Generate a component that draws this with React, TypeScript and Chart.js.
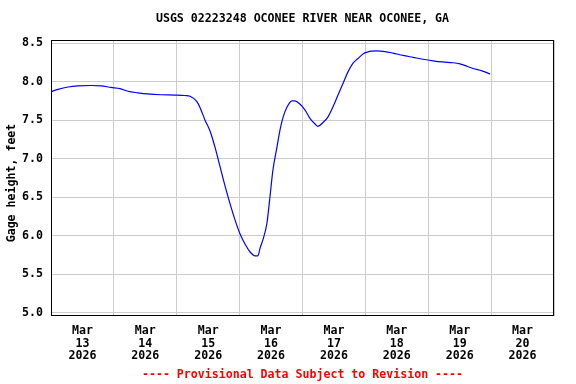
import React, { useEffect, useRef } from "react";
import { Chart, registerables } from "chart.js";

Chart.register(...registerables);

const TITLE = "USGS 02223248 OCONEE RIVER NEAR OCONEE, GA";
const Y_LABEL = "Gage height, feet";
const FOOTER = "---- Provisional Data Subject to Revision ----";
const MONTH = "Mar";
const YEAR = "2026";
const DAYS = [13, 14, 15, 16, 17, 18, 19, 20];
const Y_TICKS = [5.0, 5.5, 6.0, 6.5, 7.0, 7.5, 8.0, 8.5];

// hours since Mar 13 2026 00:00
const HOURS = [
  0, 2.7, 6.5, 10.3, 15.3, 19.1, 22.9, 26.3, 29.4, 33.2, 37.0, 42.0, 47.3, 51.1,
  53.1, 55.7, 57.3, 58.8, 60.7, 62.6, 64.5, 66.4, 68.3, 70.2, 72.1, 74.1, 76.0,
  77.9, 79.0, 79.8, 80.9, 82.4, 83.6, 84.7, 86.3, 87.4, 88.6, 90.1, 92.0, 93.1,
  95.0, 97.0, 98.9, 100.8, 101.9, 103.8, 105.7, 107.6, 109.6, 111.5, 113.4,
  115.3, 117.2, 119.1, 121.0, 122.5, 124.4, 127.5, 130.5, 134.4, 138.2, 142.0,
  145.8, 149.6, 153.5, 156.1, 158.8, 161.1, 164.5, 167.6,
];
const GAGE = [
  7.87, 7.90, 7.93, 7.945, 7.95, 7.945, 7.925, 7.91, 7.875, 7.855, 7.84, 7.83, 7.826, 7.82,
  7.81, 7.74, 7.63, 7.50, 7.36, 7.15, 6.90, 6.65, 6.42, 6.21, 6.03, 5.89, 5.79,
  5.74, 5.74, 5.84, 5.95, 6.16, 6.51, 6.85, 7.16, 7.37, 7.54, 7.67, 7.75, 7.75,
  7.71, 7.63, 7.52, 7.45, 7.42, 7.47, 7.54, 7.67, 7.83, 7.98, 8.13,
  8.24, 8.30, 8.36, 8.385, 8.395, 8.40, 8.39, 8.37, 8.34, 8.315, 8.29,
  8.27, 8.255, 8.245, 8.23, 8.20, 8.17, 8.14, 8.10,
];

const FONT_FAMILY = '"DejaVu Sans Mono", monospace';
const FONT_SIZE = 11.6;

const framePlugin = {
  id: "usgsFrame",
  afterDraw(chart: any) {
    const { ctx, chartArea } = chart;
    const { left, right, top, bottom } = chartArea;
    ctx.save();
    ctx.strokeStyle = "#000000";
    ctx.lineWidth = 1;
    ctx.strokeRect(Math.round(left) + 0.5, Math.round(top) + 0.5, Math.round(right - left) - 1, Math.round(bottom - top) - 1);
    ctx.font = `bold ${FONT_SIZE}px ${FONT_FAMILY}`;
    ctx.fillStyle = "#000000";
    ctx.textAlign = "center";
    ctx.textBaseline = "middle";
    const cx = (left + right) / 2;
    ctx.fillText(TITLE, cx, 19);
    ctx.fillStyle = "#ff0000";
    ctx.fillText(FOOTER, cx, 375);
    ctx.fillStyle = "#000000";
    ctx.translate(12, (top + bottom) / 2 + 5);
    ctx.rotate(-Math.PI / 2);
    ctx.fillText(Y_LABEL, 0, 0);
    ctx.restore();
  },
};

export default function App() {
  const ref = useRef<HTMLCanvasElement>(null);
  useEffect(() => {
    document.body.style.margin = "0";
    const canvas = ref.current!;
    const data = HOURS.map((h, i) => ({ x: h, y: GAGE[i] }));
    const font = { family: FONT_FAMILY, size: FONT_SIZE, weight: "bold" as const, lineHeight: 1.08 };
    const chart = new Chart(canvas, {
      type: "line",
      data: {
        datasets: [
          {
            data,
            borderColor: "#0000ff",
            borderWidth: 1.2,
            pointRadius: 0,
            cubicInterpolationMode: "monotone",
            fill: false,
          },
        ],
      },
      options: {
        animation: false,
        responsive: false,
        devicePixelRatio: 1,
        layout: { padding: { left: 0, top: 40, right: 22, bottom: 0 } },
        plugins: { legend: { display: false }, tooltip: { enabled: false }, title: { display: false } },
        scales: {
          x: {
            type: "linear",
            min: 0,
            max: DAYS.length * 24,
            afterBuildTicks: (scale: any) => {
              const t: any[] = [];
              for (let i = 0; i <= DAYS.length; i++) {
                t.push({ value: i * 24 });
                if (i < DAYS.length) t.push({ value: i * 24 + 12 });
              }
              scale.ticks = t;
            },
            afterFit: (scale: any) => {
              scale.height = 68;
            },
            grid: {
              color: (c: any) => (c.tick && c.tick.value % 24 === 0 ? "#cccccc" : "rgba(0,0,0,0)"),
              drawTicks: false,
              lineWidth: 1,
            },
            border: { display: false },
            ticks: {
              autoSkip: false,
              maxRotation: 0,
              padding: 9,
              color: "#000000",
              font,
              callback: (v: any) => {
                const n = Number(v);
                if (n % 24 !== 12) return "";
                return [MONTH, String(DAYS[(n - 12) / 24]), YEAR];
              },
            },
          },
          y: {
            type: "linear",
            min: 4.96,
            max: 8.54,
            afterBuildTicks: (scale: any) => {
              scale.ticks = Y_TICKS.map((v) => ({ value: v }));
            },
            afterFit: (scale: any) => {
              scale.width = 51;
            },
            grid: { color: "#cccccc", drawTicks: false, lineWidth: 1 },
            border: { display: false },
            ticks: {
              padding: 8,
              color: "#000000",
              font,
              callback: (v: any) => Number(v).toFixed(1),
            },
          },
        },
      },
      plugins: [framePlugin],
    });
    return () => chart.destroy();
  }, []);
  return <canvas ref={ref} width={576} height={384} style={{ display: "block", width: 576, height: 384 }} />;
}
